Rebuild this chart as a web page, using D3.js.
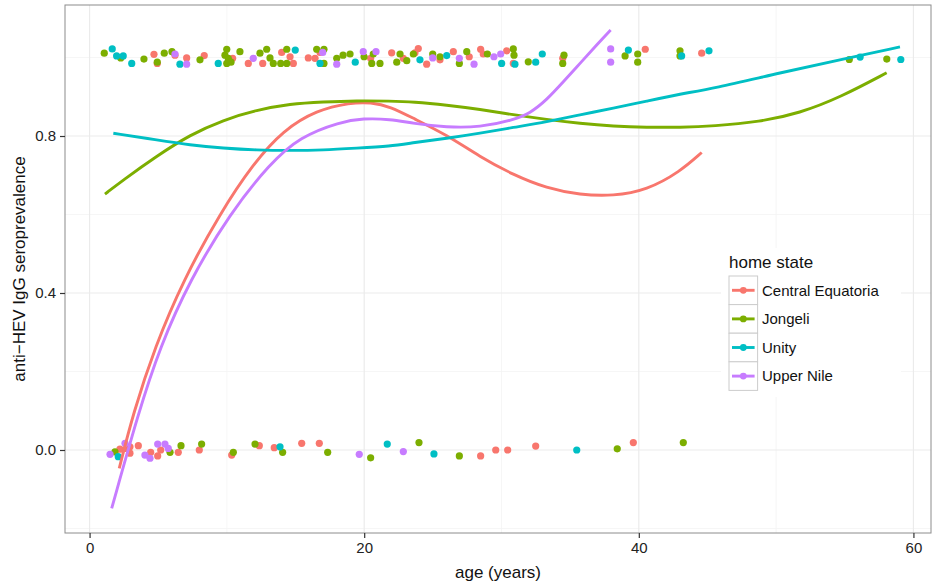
<!DOCTYPE html>
<html>
<head>
<meta charset="utf-8">
<script src="https://cdn.jsdelivr.net/npm/d3@7"></script>
<style>
  body { margin: 0; background: #fff; }
  svg { font-family: "Liberation Sans", Arial, sans-serif; }
</style>
</head>
<body>
<div id="chart"></div>
<script>
const width = 932, height = 586;
const panel = { left: 65, right: 931, top: 5, bottom: 533 };

// age range and seroprevalence range shown by the panel
const xLimits = [-1.79, 61.28];
const yLimits = [-0.2115, 1.1338];
const xTicks = [0, 20, 40, 60];
const xMinor = [10, 30, 50];
const yTicks = [0.0, 0.4, 0.8];
const yMinor = [-0.2, 0.2, 0.6, 1.0];

const states = ["Central Equatoria", "Jongeli", "Unity", "Upper Nile"];
const colors = ["#F8766D", "#7CAE00", "#00BFC4", "#C77CFF"];

// observed points [age, jittered status]
const centralPts = [
  [4.69,1.008],[4.93,0.985],[6.22,1.006],[7.07,0.999],[8.35,1.005],[10.42,0.998],[11.56,0.985],
  [12.61,0.985],[13.99,1.013],[14.60,1.002],[14.84,0.985],[15.93,0.999],[16.42,0.998],[16.78,1.013],
  [20.47,0.998],[22.00,1.012],[22.85,0.998],[23.70,1.012],[23.94,1.023],[24.55,0.983],[25.52,0.994],
  [26.49,1.015],[27.65,1.002],[28.48,1.021],[28.67,1.009],[30.38,1.017],[30.86,0.985],[34.46,0.998],
  [40.47,1.021],[44.58,1.011],
  [2.21,0.002],[2.70,0.004],[2.94,0.008],[2.94,-0.008],[3.55,0.011],[4.45,-0.006],[4.96,-0.015],
  [5.18,0.000],[6.46,-0.006],[7.99,0.000],[10.35,-0.013],[12.36,0.011],[13.45,0.006],[15.45,0.017],
  [16.73,0.017],[28.48,-0.015],[29.58,0.000],[30.45,0.000],[32.49,0.010],[39.60,0.019]
];
const jongeliPts = [
  [1.07,1.011],[2.27,0.999],[3.96,0.996],[4.93,0.988],[5.44,1.011],[6.00,1.015],[8.04,0.994],
  [9.99,1.021],[9.86,1.006],[10.10,0.998],[9.99,0.985],[10.30,0.988],[10.95,1.015],[12.41,1.011],
  [12.90,1.021],[13.14,0.999],[13.38,0.985],[13.92,0.985],[14.36,0.985],[14.36,1.021],[16.54,1.021],
  [17.07,1.021],[17.07,0.985],[18.00,0.998],[18.46,1.006],[18.97,1.009],[19.99,1.002],[20.55,0.985],
  [20.66,1.009],[21.15,0.985],[22.61,1.009],[22.37,0.988],[23.10,0.992],[23.58,1.009],[24.99,1.009],
  [25.52,1.002],[26.93,0.985],[27.47,1.015],[28.97,1.009],[30.86,1.022],[30.91,1.006],[31.95,0.989],
  [34.55,1.006],[34.46,0.985],[39.00,1.004],[39.92,1.009],[39.92,0.988],[43.00,1.017],[43.00,1.004],
  [55.33,0.995],[58.06,0.996],
  [1.85,-0.005],[5.86,-0.006],[6.66,0.011],[8.16,0.015],[10.47,-0.006],[12.05,0.015],[14.06,-0.006],
  [17.34,-0.006],[20.47,-0.020],[23.99,0.019],[26.93,-0.015],[38.43,0.003],[43.24,0.019]
];
const unityPts = [
  [1.65,1.022],[1.97,1.004],[2.45,1.004],[3.07,0.985],[6.58,0.983],[9.37,0.985],[14.98,1.019],
  [16.78,0.985],[19.35,0.988],[24.06,0.994],[26.01,1.005],[30.01,0.985],[30.98,0.983],[32.49,0.988],
  [32.97,1.009],[39.24,1.019],[43.12,1.004],[45.11,1.017],[56.12,1.001],[59.08,0.995],
  [2.09,-0.017],[13.87,0.008],[21.68,0.015],[25.08,-0.010],[35.48,0.000]
];
const upperNilePts = [
  [6.22,1.009],[7.07,0.983],[11.92,0.998],[16.98,1.013],[18.00,0.983],[19.93,1.015],[20.86,1.015],
  [24.99,0.999],[26.93,0.998],[28.00,0.983],[29.45,1.002],[29.94,1.009],[37.95,1.022],[37.95,0.988],
  [1.49,-0.011],[2.58,0.017],[4.03,-0.013],[4.40,-0.021],[4.96,0.015],[5.49,0.015],[5.73,0.004],
  [19.64,-0.011],[22.85,-0.004]
];

// smoothed fits [age, fitted prevalence]
const centralFit = [
  [2.16,-0.047],[3.18,0.094],[4.76,0.263],[6.83,0.433],[9.50,0.603],[11.93,0.730],[14.11,0.815],
  [16.54,0.866],[18.97,0.885],[20.5,0.886],[21.9,0.875],[23.58,0.845],[26.01,0.803],[28.43,0.747],
  [30.86,0.701],[33.29,0.667],[35.72,0.650],[38.14,0.647],[40.58,0.662],[43.0,0.709],[44.58,0.758]
];
const jongeliFit = [
  [1.12,0.652],[2.45,0.688],[4.89,0.749],[7.31,0.803],[9.74,0.841],[12.17,0.866],[14.6,0.882],
  [17.02,0.887],[19.45,0.890],[21.88,0.889],[23.58,0.887],[26.01,0.879],[28.43,0.868],[30.86,0.854],
  [33.29,0.842],[35.72,0.832],[38.14,0.825],[40.58,0.822],[43.0,0.822],[45.43,0.825],[48.8,0.836],
  [51.7,0.858],[54.7,0.899],[58.05,0.961]
];
const unityFit = [
  [1.73,0.807],[4.89,0.790],[7.31,0.777],[9.74,0.769],[12.17,0.764],[14.6,0.763],[17.02,0.764],
  [19.45,0.769],[21.88,0.774],[23.58,0.783],[26.01,0.794],[28.43,0.807],[30.86,0.822],[33.29,0.836],
  [35.72,0.854],[38.14,0.871],[40.58,0.889],[43.0,0.907],[45.43,0.921],[50.28,0.961],[55.14,0.998],
  [59.02,1.027]
];
const upperNileFit = [
  [1.61,-0.149],[3.55,0.094],[5.13,0.263],[7.31,0.433],[10.23,0.603],[13.14,0.730],[15.32,0.798],
  [18.24,0.836],[19.93,0.845],[21.88,0.843],[23.58,0.832],[26.01,0.822],[28.43,0.822],[30.86,0.841],
  [32.08,0.858],[33.29,0.892],[34.5,0.938],[35.72,0.985],[36.93,1.032],[37.95,1.070]
];

const pointSets = [centralPts, jongeliPts, unityPts, upperNilePts];
const fitSets = [centralFit, jongeliFit, unityFit, upperNileFit];

var svg = d3.select("#chart")
    .append("svg")
    .attr("width", width)
    .attr("height", height);

var x = d3.scaleLinear().domain(xLimits).range([panel.left, panel.right]);
var y = d3.scaleLinear().domain(yLimits).range([panel.bottom, panel.top]);

// panel background
svg.append("rect")
    .attr("x", panel.left)
    .attr("y", panel.top)
    .attr("width", panel.right - panel.left)
    .attr("height", panel.bottom - panel.top)
    .attr("fill", "#fff");

var grid = svg.append("g");

grid.selectAll(".xminor").data(xMinor).enter().append("line")
    .attr("x1", d => x(d)).attr("x2", d => x(d))
    .attr("y1", panel.top).attr("y2", panel.bottom)
    .attr("stroke", "#F4F4F4").attr("stroke-width", 0.8);
grid.selectAll(".yminor").data(yMinor).enter().append("line")
    .attr("y1", d => y(d)).attr("y2", d => y(d))
    .attr("x1", panel.left).attr("x2", panel.right)
    .attr("stroke", "#F4F4F4").attr("stroke-width", 0.8);
grid.selectAll(".xmajor").data(xTicks).enter().append("line")
    .attr("x1", d => x(d)).attr("x2", d => x(d))
    .attr("y1", panel.top).attr("y2", panel.bottom)
    .attr("stroke", "#EBEBEB").attr("stroke-width", 1.2);
grid.selectAll(".ymajor").data(yTicks).enter().append("line")
    .attr("y1", d => y(d)).attr("y2", d => y(d))
    .attr("x1", panel.left).attr("x2", panel.right)
    .attr("stroke", "#EBEBEB").attr("stroke-width", 1.2);

// points
pointSets.forEach((pts, i) => {
    svg.append("g").selectAll("circle")
        .data(pts)
        .enter()
        .append("circle")
        .attr("cx", d => x(d[0]))
        .attr("cy", d => y(d[1]))
        .attr("r", 3.6)
        .attr("fill", colors[i]);
});

// smooth lines
var line = d3.line()
    .x(d => x(d[0]))
    .y(d => y(d[1]))
    .curve(d3.curveBasis);

fitSets.forEach((fit, i) => {
    svg.append("path")
        .datum(fit)
        .attr("d", line)
        .attr("fill", "none")
        .attr("stroke", colors[i])
        .attr("stroke-width", 2.9)
        .attr("stroke-linecap", "butt");
});

// panel border
svg.append("rect")
    .attr("x", panel.left)
    .attr("y", panel.top)
    .attr("width", panel.right - panel.left)
    .attr("height", panel.bottom - panel.top)
    .attr("fill", "none")
    .attr("stroke", "#8c8c8c")
    .attr("stroke-width", 1);

// axes
var xAxis = svg.append("g")
    .attr("transform", "translate(0," + panel.bottom + ")")
    .call(d3.axisBottom(x).tickValues(xTicks).tickSize(5).tickPadding(4).tickFormat(d3.format("d")));
var yAxis = svg.append("g")
    .attr("transform", "translate(" + panel.left + ",0)")
    .call(d3.axisLeft(y).tickValues(yTicks).tickSize(5).tickPadding(4).tickFormat(d3.format(".1f")));

[xAxis, yAxis].forEach(a => {
    a.select(".domain").remove();
    a.selectAll(".tick line").attr("stroke", "#333").attr("stroke-width", 1.2);
    a.selectAll(".tick text")
        .attr("fill", "#222")
        .style("font-size", "15px")
        .style("font-family", "Liberation Sans, Arial, sans-serif");
});

svg.append("text")
    .attr("x", (panel.left + panel.right) / 2)
    .attr("y", 578)
    .attr("text-anchor", "middle")
    .style("font-size", "17px")
    .attr("fill", "#111")
    .text("age (years)");

svg.append("text")
    .attr("transform", "translate(25," + (panel.top + panel.bottom) / 2 + ")rotate(-90)")
    .attr("text-anchor", "middle")
    .style("font-size", "17px")
    .attr("fill", "#111")
    .text("anti\u2212HEV IgG seroprevalence");

// legend
var legend = svg.append("g").attr("transform", "translate(721,248)");
legend.append("rect")
    .attr("width", 180).attr("height", 149)
    .attr("fill", "#fff");
legend.append("text")
    .attr("x", 8).attr("y", 20)
    .style("font-size", "17px")
    .attr("fill", "#111")
    .text("home state");

var keys = legend.selectAll(".key")
    .data(states)
    .enter()
    .append("g")
    .attr("transform", (d, i) => "translate(8," + (28 + i * 28.6) + ")");
keys.append("rect")
    .attr("width", 28.6).attr("height", 28.6)
    .attr("fill", "#fff")
    .attr("stroke", "#cccccc")
    .attr("stroke-width", 1);
keys.append("line")
    .attr("x1", 3).attr("x2", 25.6)
    .attr("y1", 14.3).attr("y2", 14.3)
    .attr("stroke", (d, i) => colors[i])
    .attr("stroke-width", 2.9);
keys.append("circle")
    .attr("cx", 14.3).attr("cy", 14.3).attr("r", 3.4)
    .attr("fill", (d, i) => colors[i]);
keys.append("text")
    .attr("x", 33).attr("y", 14.3)
    .attr("dy", "0.36em")
    .style("font-size", "15px")
    .attr("fill", "#111")
    .text(d => d);
</script>
</body>
</html>
